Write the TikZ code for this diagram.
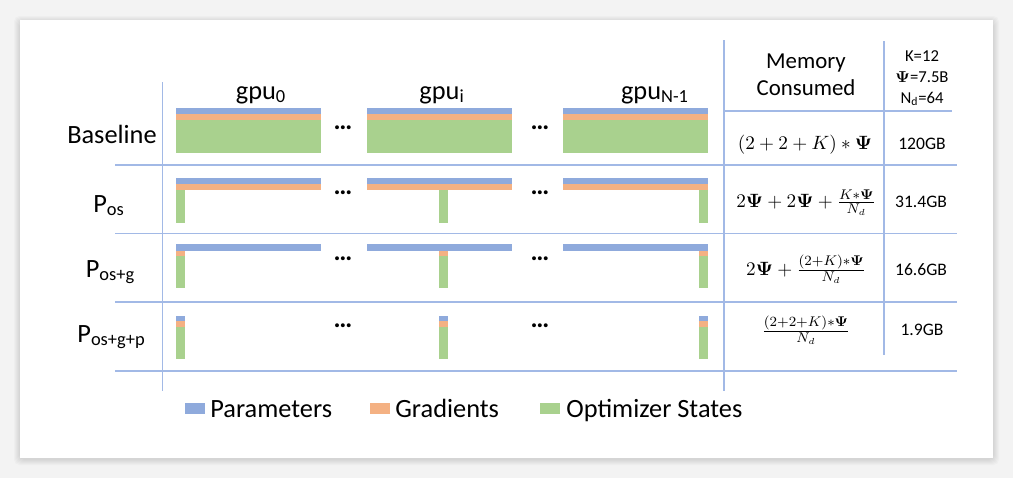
\documentclass[tikz,border=0pt]{standalone}
\usepackage[no-math]{fontspec}
\setmainfont{Carlito}
\usepackage{amsmath}

\definecolor{zParam}{RGB}{143,170,220}
\definecolor{zGrad}{RGB}{244,177,131}
\definecolor{zOpt}{RGB}{169,209,142}
\definecolor{zRule}{RGB}{162,185,230}
\definecolor{zBack}{RGB}{243,243,243}

\newcommand{\bPsi}{\mathbf{\Psi}}

\tikzset{
  rowlab/.style={anchor=base, inner sep=0pt, font=\fontsize{15}{18}\selectfont},
  gpulab/.style={anchor=base, inner sep=0pt, font=\fontsize{15}{18}\selectfont},
  headlab/.style={anchor=base, inner sep=0pt, align=center},
  memval/.style={anchor=base, inner sep=0pt, font=\fontsize{10}{12}\selectfont},
  formula/.style={anchor=base, inner sep=0pt, font=\fontsize{11}{13}\selectfont},
  dotlab/.style={inner sep=0pt, font=\fontsize{15}{18}\selectfont\bfseries},
  legtext/.style={anchor=base west, inner sep=0pt, font=\fontsize{15}{18}\selectfont},
  rule/.style={zRule, line width=0.8pt}
}

\begin{document}
\begin{tikzpicture}[x=0.02cm, y=-0.02cm]

  \useasboundingbox (0,0) rectangle (1013,478);
  \fill[zBack] (0,0) rectangle (1013,478);

  % ---- card ----
  \foreach \s in {1,...,6}
    \fill[black, opacity=0.018, rounded corners=3] (20-\s,20-\s+2) rectangle (993+\s,458+\s+1);
  \fill[white] (20,20) rectangle (993,458);

  % ---- grid ----
  \draw[rule] (162.5,82) -- (162.5,391);
  \draw[rule] (724,40) -- (724,391);
  \draw[rule] (884,41) -- (884,355);
  \draw[rule] (724,111) -- (952,111);
  \foreach \ly in {165,233.5,302,371}
    \draw[rule] (115,\ly) -- (957,\ly);

  % ---- baseline ----
  \foreach \bx in {176,367,563}{
    \fill[zParam] (\bx,108) rectangle ++(145,6);
    \fill[zGrad] (\bx,114) rectangle ++(145,6);
    \fill[zOpt] (\bx,120) rectangle ++(145,33);
  }
  % ---- P_os ----
  \foreach \bx/\sx in {176/176,367/439,563/699}{
    \fill[zParam] (\bx,178) rectangle ++(145,6);
    \fill[zGrad] (\bx,184) rectangle ++(145,6);
    \fill[zOpt] (\sx,190) rectangle ++(9,33);
  }
  % ---- P_os+g ----
  \foreach \bx/\sx in {176/176,367/439,563/699}{
    \fill[zParam] (\bx,244) rectangle ++(145,6.5);
    \fill[zGrad] (\sx,250.5) rectangle ++(9,5.5);
    \fill[zOpt] (\sx,256) rectangle ++(9,32);
  }
  % ---- P_os+g+p ----
  \foreach \sx in {176,439,699}{
    \fill[zParam] (\sx,316) rectangle ++(9,5);
    \fill[zGrad] (\sx,321) rectangle ++(9,6);
    \fill[zOpt] (\sx,327) rectangle ++(9,32);
  }

  % ---- dots ----
  \foreach \dy [count=\r] in {128,193,259,326}{
    \node[dotlab] (dotsA\r) at (343,\dy) {…};
    \node[dotlab] (dotsB\r) at (540,\dy) {…};
  }

  % ---- column heads ----
  \node[gpulab] (gpuFirst) at (261,99) {gpu\textsubscript{0}};
  \node[gpulab] (gpuMid) at (442,99) {gpu\textsubscript{i}};
  \node[gpulab] (gpuLast) at (655,99) {gpu\textsubscript{N-1}};
  \node[headlab, font=\fontsize{13}{15.3}\selectfont] (memHead) at (806,95) {Memory\\Consumed};
  \node[headlab, font=\fontsize{9.5}{11.7}\selectfont] (paramHead) at (922,103)
    {K=12\\$\bPsi$=7.5B\\N\textsubscript{d}=64};

  % ---- row labels ----
  \node[rowlab] (rowBase) at (112,143) {Baseline};
  \node[rowlab] (rowOs) at (109,212) {P\textsubscript{os}};
  \node[rowlab] (rowOsG) at (110.5,277) {P\textsubscript{os+g}};
  \node[rowlab] (rowOsGP) at (111.5,342) {P\textsubscript{os+g+p}};

  % ---- memory ----
  \node[formula] (fBase) at (805,149) {$(2+2+K)*\bPsi$};
  \node[formula] (fOs) at (806,207) {$2\bPsi+2\bPsi+\frac{K*\bPsi}{N_d}$};
  \node[formula] (fOsG) at (806,275) {$2\bPsi+\frac{(2+K)*\bPsi}{N_d}$};
  \node[formula] (fOsGP) at (806,336) {$\frac{(2+2+K)*\bPsi}{N_d}$};
  \node[memval] (vBase) at (922,149) {120GB};
  \node[memval] (vOs) at (921,207) {31.4GB};
  \node[memval] (vOsG) at (921,275) {16.6GB};
  \node[memval] (vOsGP) at (922,335) {1.9GB};

  % ---- legend ----
  \fill[zParam] (185,403) rectangle (205,414);
  \node[legtext] (legParam) at (210,417) {Parameters};
  \fill[zGrad] (370,403) rectangle (390,414);
  \node[legtext] (legGrad) at (395,417) {Gradients};
  \fill[zOpt] (540,403) rectangle (560,414);
  \node[legtext] (legOpt) at (566,417) {Optimizer States};

\end{tikzpicture}
\end{document}
